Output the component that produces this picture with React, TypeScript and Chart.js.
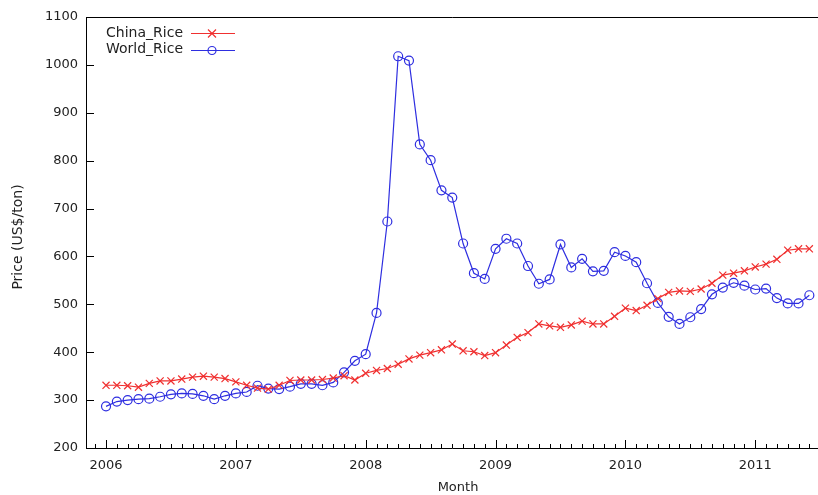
import React, { useEffect, useRef } from "react";
import { Chart, registerables } from "chart.js";

Chart.register(...registerables);

// Monthly series, January 2006 through June 2011
const startYear = 2006;
const yearLabels = ["2006", "2007", "2008", "2009", "2010", "2011"];

const chinaRice = [
  331, 331, 330, 327, 335, 340, 340, 344, 348, 350, 348, 345,
  338, 331, 325, 323, 331, 341, 342, 342, 343, 346, 351, 342,
  356, 362, 366, 375, 386, 394, 399, 405, 417, 403, 401, 393,
  399, 415, 431, 441, 459, 455, 452, 457, 465, 459, 459, 475,
  492, 487, 498, 512, 525, 528, 527, 532, 544, 561, 565, 570,
  578, 584, 594, 613, 616, 616,
];

const worldRice = [
  287, 297, 300, 302, 303, 307, 312, 314, 313, 309, 302, 309,
  314, 317, 330, 324, 323, 328, 334, 334, 331, 337, 358, 382,
  396, 482, 673, 1018, 1009, 834, 801, 738, 723, 627, 565, 553,
  616, 637, 627, 580, 543, 552, 625, 577, 595, 569, 570, 609,
  601, 588, 544, 503, 474, 459, 473, 490, 521, 535, 545, 539,
  531, 533, 513, 502, 502, 519,
];

const yTicks = [200, 300, 400, 500, 600, 700, 800, 900, 1000, 1100];

const xTitle = "Month";
const yTitle = "Price (US$/ton)";

const RED = "#f03030";
const BLUE = "#2e2ee0";
const FONT = "DejaVu Sans";
const TEXT = "#222";

const toPoints = (vals: number[]) => vals.map((v, i) => ({ x: i, y: v }));

// Inward tick marks, plot frame, axis titles and the line-sample legend
const decor = {
  id: "decor",
  afterDraw(chart: any) {
    const { ctx, chartArea: a, scales } = chart;
    const x = scales.x;
    const y = scales.y;
    ctx.save();
    ctx.strokeStyle = "#000";
    ctx.lineWidth = 1;
    ctx.beginPath();
    ctx.moveTo(a.right, a.top + 0.5);
    ctx.lineTo(a.left + 0.5, a.top + 0.5);
    ctx.lineTo(a.left + 0.5, a.bottom + 0.5);
    ctx.lineTo(a.right, a.bottom + 0.5);
    ctx.stroke();

    ctx.beginPath();
    for (let m = Math.ceil(x.min); m <= x.max; m++) {
      const px = Math.round(x.getPixelForValue(m)) + 0.5;
      const len = m % 12 === 0 ? 8 : 4;
      ctx.moveTo(px, a.bottom);
      ctx.lineTo(px, a.bottom - len);
    }
    yTicks.forEach((v) => {
      const py = Math.round(y.getPixelForValue(v)) + 0.5;
      ctx.moveTo(a.left, py);
      ctx.lineTo(a.left + 8, py);
    });
    ctx.stroke();

    // axis titles
    ctx.fillStyle = TEXT;
    ctx.textAlign = "center";
    ctx.textBaseline = "middle";
    ctx.font = `13px "${FONT}"`;
    ctx.fillText(xTitle, a.left + 372, a.bottom + 40);
    ctx.save();
    ctx.translate(18, a.top + 220);
    ctx.rotate(-Math.PI / 2);
    ctx.font = `14px "${FONT}"`;
    ctx.fillText(yTitle, 0, 0);
    ctx.restore();

    // legend
    const items = [
      { label: "China_Rice", color: RED, style: "cross" },
      { label: "World_Rice", color: BLUE, style: "circle" },
    ];
    ctx.font = `14px "${FONT}"`;
    ctx.textAlign = "right";
    ctx.textBaseline = "middle";
    ctx.lineWidth = 1.2;
    items.forEach((it, k) => {
      const ly = a.top + 16 + k * 16.5;
      ctx.fillStyle = TEXT;
      ctx.fillText(it.label, a.left + 97, ly);
      ctx.strokeStyle = it.color;
      ctx.beginPath();
      ctx.moveTo(a.left + 105, Math.round(ly) + 0.5);
      ctx.lineTo(a.left + 149, Math.round(ly) + 0.5);
      ctx.stroke();
      const cx = a.left + 126;
      const cy = Math.round(ly) + 0.5;
      ctx.beginPath();
      if (it.style === "cross") {
        ctx.moveTo(cx - 4, cy - 4);
        ctx.lineTo(cx + 4, cy + 4);
        ctx.moveTo(cx + 4, cy - 4);
        ctx.lineTo(cx - 4, cy + 4);
      } else {
        ctx.arc(cx, cy, 4, 0, Math.PI * 2);
      }
      ctx.stroke();
    });
    ctx.restore();
  },
};

function RiceChart() {
  const ref = useRef<HTMLCanvasElement | null>(null);

  useEffect(() => {
    if (!ref.current) return;
    const chart = new Chart(ref.current, {
      type: "line",
      data: {
        datasets: [
          {
            label: "China_Rice",
            data: toPoints(chinaRice),
            borderColor: RED,
            backgroundColor: RED,
            borderWidth: 1.2,
            pointStyle: "crossRot",
            pointRadius: 5,
            pointBorderWidth: 1.2,
            pointBorderColor: RED,
            tension: 0,
          },
          {
            label: "World_Rice",
            data: toPoints(worldRice),
            borderColor: BLUE,
            backgroundColor: "rgba(0,0,0,0)",
            borderWidth: 1.2,
            pointStyle: "circle",
            pointRadius: 4.5,
            pointBorderWidth: 1.2,
            pointBorderColor: BLUE,
            pointBackgroundColor: "rgba(0,0,0,0)",
            tension: 0,
          },
        ],
      },
      options: {
        responsive: false,
        animation: false,
        devicePixelRatio: 1,
        layout: { autoPadding: false, padding: { top: 17, right: 0, left: 0, bottom: 0 } },
        plugins: {
          legend: { display: false },
          tooltip: { enabled: false },
        },
        scales: {
          x: {
            type: "linear",
            min: -1.85,
            max: 65.8,
            grid: { display: false, drawTicks: false },
            border: { display: false },
            afterBuildTicks: (scale: any) => {
              scale.ticks = yearLabels.map((_, k) => ({ value: k * 12 }));
            },
            afterFit: (scale: any) => {
              scale.height = 47;
            },
            ticks: {
              padding: 10,
              color: TEXT,
              font: { family: FONT, size: 13 },
              maxRotation: 0,
              callback: (v: any) => {
                const k = Math.round(Number(v) / 12);
                return yearLabels[k] ?? String(startYear + k);
              },
            },
          },
          y: {
            type: "linear",
            min: 200,
            max: 1100,
            grid: { display: false, drawTicks: false },
            border: { display: false },
            afterBuildTicks: (scale: any) => {
              scale.ticks = yTicks.map((v) => ({ value: v }));
            },
            afterFit: (scale: any) => {
              scale.width = 86;
            },
            ticks: {
              padding: 8,
              color: TEXT,
              font: { family: FONT, size: 13 },
              callback: (v: any) => String(v),
            },
          },
        },
      },
      plugins: [decor],
    });
    return () => chart.destroy();
  }, []);

  return <canvas ref={ref} width={818} height={495} style={{ display: "block" }} />;
}

export default function App() {
  return (
    <div style={{ position: "fixed", left: 0, top: 0, width: 818, height: 495, background: "#fff" }}>
      <RiceChart />
    </div>
  );
}
